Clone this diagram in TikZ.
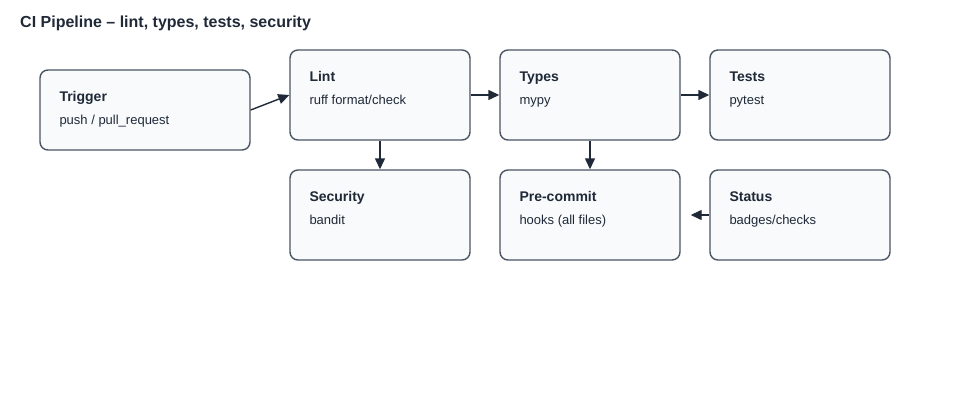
\documentclass[tikz,border=0pt]{standalone}
\usepackage{fontspec}
\setmainfont{Liberation Sans}
\usetikzlibrary{arrows.meta}

\definecolor{inkdark}{HTML}{1F2937}
\definecolor{edgegray}{HTML}{4B5563}
\definecolor{boxfill}{HTML}{F8FAFC}

\tikzstyle{stage}=[draw=edgegray, fill=boxfill, rounded corners=8pt, line width=1.4pt,
  minimum width=180pt, minimum height=90pt, inner sep=0pt]
\tikzstyle{headline}=[anchor=base west, inner sep=0pt, text=inkdark, font=\fontsize{14}{16}\selectfont\bfseries]
\tikzstyle{subline}=[anchor=base west, inner sep=0pt, text=inkdark, font=\fontsize{13}{15}\selectfont]
\tikzstyle{flow}=[draw=inkdark, line width=1.4pt, -{Triangle[length=11pt,width=10pt]}]

\begin{document}
\begin{tikzpicture}[x=1pt, y=1pt]
    \useasboundingbox (0,0) rectangle (980,-420);

    \node[anchor=base west, inner sep=0pt, text=inkdark, font=\fontsize{16}{19}\selectfont\bfseries]
      (heading) at (20,-27.5) {CI Pipeline -- lint, types, tests, security};

    \node[stage, minimum width=210pt, minimum height=80pt] (trigger) at (145,-110) {};

    \foreach \n/\x/\y in {lint/380/95, types/590/95, tests/800/95,
                          security/380/215, precommit/590/215, status/800/215}
    {
      \path (\x,-\y) node[stage] (\n) {};
    }

    \foreach \n/\t/\s in {trigger/Trigger/{push / pull\_request}, lint/Lint/{ruff format/check},
                          types/Types/mypy, tests/Tests/pytest, security/Security/bandit,
                          precommit/Pre-commit/{hooks (all files)}, status/Status/{badges/checks}}
    {
      \node[headline] (\n-t) at ([xshift=20pt, yshift=-32.5pt]\n.north west) {\t};
      \node[subline] (\n-s) at ([xshift=20pt, yshift=-55.5pt]\n.north west) {\s};
    }

    \draw[flow] (trigger.east) -- (lint.west);
    \draw[flow] (lint) -- (types);
    \draw[flow] (types) -- (tests);
    \draw[flow] (lint) -- (security);
    \draw[flow] (types) -- (precommit);
    \draw[flow, shorten >=10pt] (status) -- (precommit);
  \end{tikzpicture}
\end{document}
